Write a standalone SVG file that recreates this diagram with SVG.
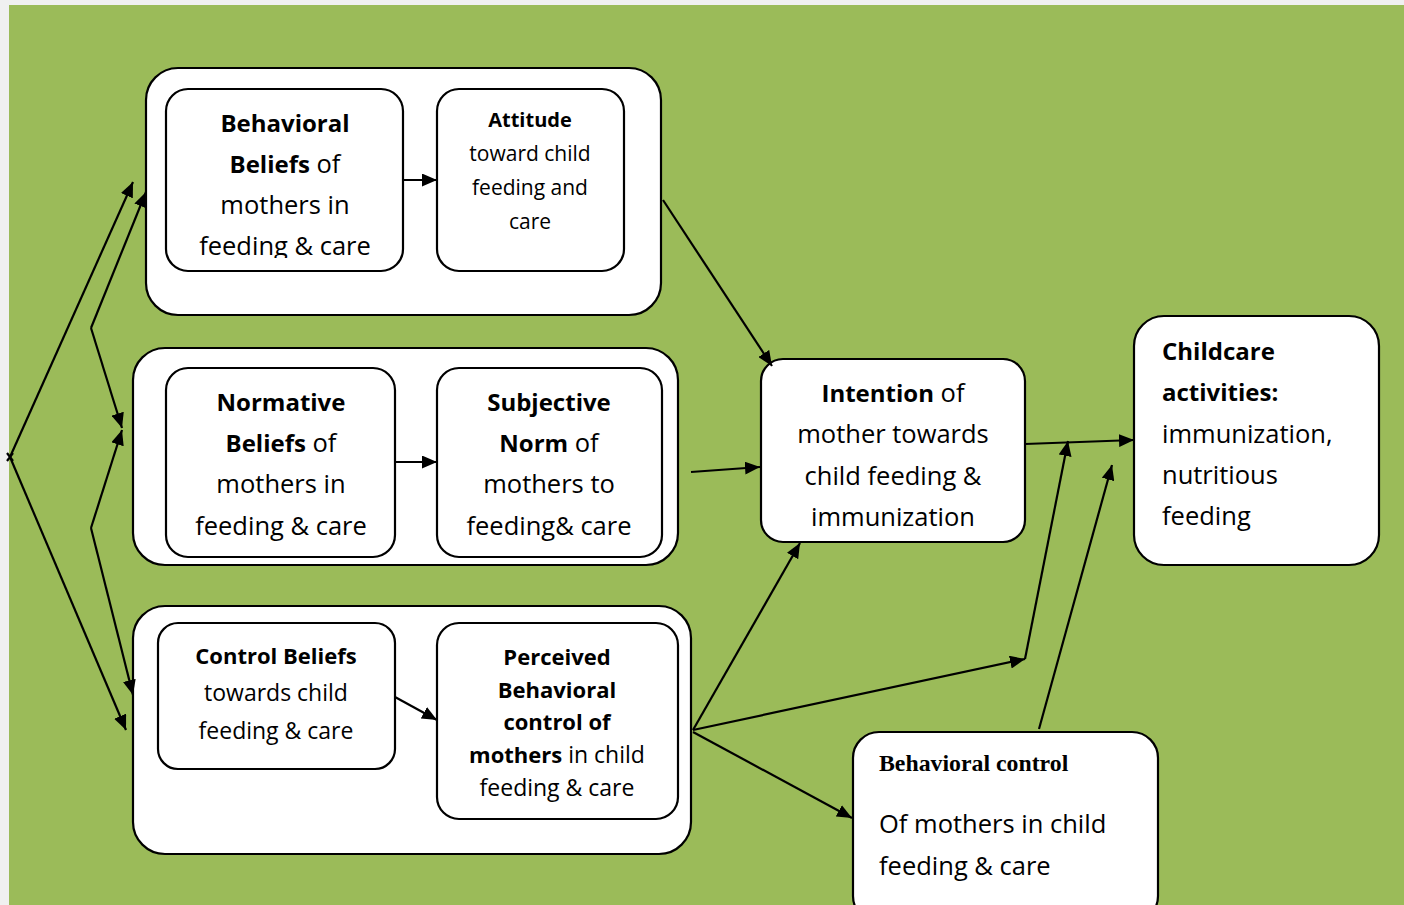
<svg xmlns="http://www.w3.org/2000/svg" width="1404" height="905" viewBox="0 0 1404 905">
<style>
.box{fill:#fff;stroke:#000;stroke-width:2.2}
.t{font-family:"Open Sans","Liberation Sans",sans-serif;fill:#000;text-anchor:middle}
.tl{font-family:"Open Sans","Liberation Sans",sans-serif;fill:#000}
.b{font-weight:bold}
.L{font-size:25.5px}
.LB{font-size:24px;font-weight:bold}
.S{font-size:21px}
.SB{font-size:20px;font-weight:bold}
.M{font-size:23px}
.MB{font-size:22px;font-weight:bold}
.c{fill:none;stroke:#000;stroke-width:2.2}
</style>
<defs>
<marker id="ah" markerUnits="userSpaceOnUse" markerWidth="16" markerHeight="13" refX="15" refY="6.5" orient="auto">
<path d="M0,0 L15,6.5 L0,13 z" fill="#000"/>
</marker>
<clipPath id="clipA"><rect x="166" y="89" width="237" height="169"/></clipPath>
<clipPath id="clipI"><rect x="761" y="359" width="264" height="171"/></clipPath>
<clipPath id="clipC"><rect x="1134" y="316" width="245" height="233"/></clipPath>
</defs>
<rect x="0" y="0" width="1404" height="905" fill="#f0f0f0"/>
<rect x="9" y="5" width="1395" height="900" fill="#9bbb59"/>

<g id="group-attitude">
<rect class="box" x="146" y="68" width="515" height="247" rx="32"/>
</g>
<g id="behavioral-beliefs">
<rect class="box" x="166" y="89" width="237" height="182" rx="22"/>
<g clip-path="url(#clipA)">
<text class="t LB" x="285" y="132">Behavioral</text>
<text class="t L" x="285" y="173"><tspan class="LB">Beliefs</tspan> of</text>
<text class="t L" x="285" y="214">mothers in</text>
<text class="t L" x="285" y="255">feeding &amp; care</text>
</g>
</g>
<g id="attitude">
<rect class="box" x="437" y="89" width="187" height="182" rx="22"/>
<text class="t SB" x="530" y="127">Attitude</text>
<text class="t S" x="530" y="161">toward child</text>
<text class="t S" x="530" y="195">feeding and</text>
<text class="t S" x="530" y="229">care</text>
</g>

<g id="group-norm">
<rect class="box" x="133" y="348" width="545" height="217" rx="32"/>
</g>
<g id="normative-beliefs">
<rect class="box" x="166" y="368" width="229" height="189" rx="22"/>
<text class="t LB" x="281" y="411">Normative</text>
<text class="t L" x="281" y="452"><tspan class="LB">Beliefs</tspan> of</text>
<text class="t L" x="281" y="493">mothers in</text>
<text class="t L" x="281" y="535">feeding &amp; care</text>
</g>
<g id="subjective-norm">
<rect class="box" x="437" y="368" width="225" height="189" rx="22"/>
<text class="t LB" x="549" y="411">Subjective</text>
<text class="t L" x="549" y="452"><tspan class="LB">Norm</tspan> of</text>
<text class="t L" x="549" y="493">mothers to</text>
<text class="t L" x="549" y="535">feeding&amp; care</text>
</g>

<g id="group-control">
<rect class="box" x="133" y="606" width="558" height="248" rx="32"/>
</g>
<g id="control-beliefs">
<rect class="box" x="158" y="623" width="237" height="146" rx="20"/>
<text class="t MB" x="276" y="664">Control Beliefs</text>
<text class="t M" x="276" y="701">towards child</text>
<text class="t M" x="276" y="739">feeding &amp; care</text>
</g>
<g id="perceived-control">
<rect class="box" x="437" y="623" width="241" height="196" rx="22"/>
<text class="t MB" x="557" y="665">Perceived</text>
<text class="t MB" x="557" y="698">Behavioral</text>
<text class="t MB" x="557" y="730">control of</text>
<text class="t M" x="557" y="763"><tspan class="MB">mothers</tspan> in child</text>
<text class="t M" x="557" y="796">feeding &amp; care</text>
</g>

<g id="intention">
<rect class="box" x="761" y="359" width="264" height="183" rx="22"/>
<g clip-path="url(#clipI)">
<text class="t L" x="893" y="402"><tspan class="LB">Intention</tspan> of</text>
<text class="t L" x="893" y="443">mother towards</text>
<text class="t L" x="893" y="485">child feeding &amp;</text>
<text class="t L" x="893" y="526">immunization</text>
</g>
</g>

<g id="childcare">
<rect class="box" x="1134" y="316" width="245" height="249" rx="30"/>
<g clip-path="url(#clipC)">
<text class="tl LB" x="1162" y="360">Childcare</text>
<text class="tl LB" x="1162" y="401">activities:</text>
<text class="tl L" x="1162" y="443">immunization,</text>
<text class="tl L" x="1162" y="484">nutritious</text>
<text class="tl L" x="1162" y="525">feeding</text>
</g>
</g>

<g id="behavioral-control">
<rect class="box" x="853" y="732" width="305" height="190" rx="26"/>
<text x="879" y="771" font-family="'Liberation Serif',serif" font-weight="bold" font-size="23.8">Behavioral control</text>
<text class="tl L" x="879" y="833">Of mothers in child</text>
<text class="tl L" x="879" y="875">feeding &amp; care</text>
</g>

<g id="connectors">
<line class="c" x1="403" y1="180" x2="437" y2="180" marker-end="url(#ah)"/>
<line class="c" x1="395" y1="462" x2="437" y2="462" marker-end="url(#ah)"/>
<line class="c" x1="395" y1="697" x2="437" y2="720" marker-end="url(#ah)"/>
<line class="c" x1="10" y1="457" x2="133" y2="182" marker-end="url(#ah)"/>
<polyline class="c" points="91,328 146,192" marker-end="url(#ah)"/>
<polyline class="c" points="91,328 122,428" marker-end="url(#ah)"/>
<polyline class="c" points="91,528 122,430" marker-end="url(#ah)"/>
<polyline class="c" points="91,528 133,695" marker-end="url(#ah)"/>
<line class="c" x1="10" y1="457" x2="126" y2="730" marker-end="url(#ah)"/>
<path class="c" d="M7,453 L13,461 M13,453 L7,461" stroke-width="1.5"/>
<line class="c" x1="663" y1="200" x2="772" y2="366" marker-end="url(#ah)"/>
<line class="c" x1="691" y1="472" x2="760" y2="467" marker-end="url(#ah)"/>
<line class="c" x1="693" y1="730" x2="800" y2="543" marker-end="url(#ah)"/>
<line class="c" x1="693" y1="730" x2="1025" y2="659" marker-end="url(#ah)"/>
<line class="c" x1="1025" y1="659" x2="1068" y2="441" marker-end="url(#ah)"/>
<line class="c" x1="693" y1="732" x2="852" y2="818" marker-end="url(#ah)"/>
<line class="c" x1="1025" y1="444" x2="1134" y2="440" marker-end="url(#ah)"/>
<line class="c" x1="1039" y1="729" x2="1112" y2="465" marker-end="url(#ah)"/>
</g>
</svg>
